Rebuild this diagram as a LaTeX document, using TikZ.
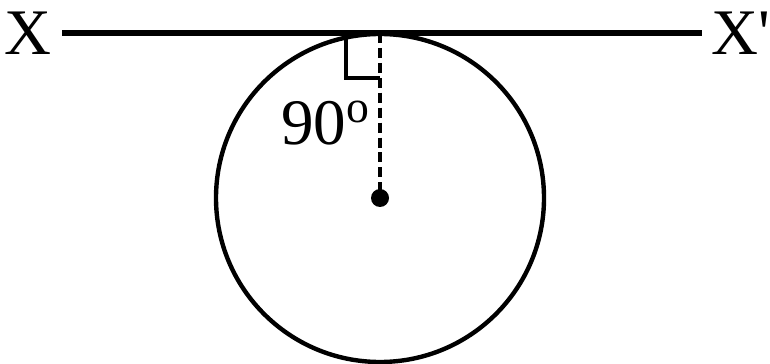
\documentclass[tikz,border=0pt]{standalone}
\usepackage{fontspec}
\setmainfont{Liberation Serif}
\usetikzlibrary{calc}

\begin{document}
\begin{tikzpicture}[x=0.02cm,y=-0.02cm,
  lbl/.style={font=\fontsize{37}{44}\selectfont,inner sep=0pt}]
\useasboundingbox (0,0) rectangle (770,364);
% points of the figure
\coordinate (O) at (380,198);
\coordinate (T) at (380,33);
% tangent line
\node[lbl,inner xsep=11*0.02cm,text height=25pt,text depth=0pt] (X) at (27.5,33) {X};
\node[lbl,inner xsep=9*0.02cm,text height=25pt,text depth=0pt,anchor=west] (Xp) at (702,33) {X\textquotesingle};
\draw[line width=2.9pt] (X.east) -- (Xp.west);
% circle and radius
\draw[line width=2.5pt] (O) circle[radius=164];
\draw[line width=2.6pt,dash pattern=on 5.7pt off 2.8pt] (T) -- (O);
\fill (O) circle[radius=9];
% right angle mark
\draw[line width=2.4pt] (T) ++(-34,0) -- ++(0,45) -- ++(34,0);
\node[lbl,anchor=base west] (ang) at (281,145) {90{\fontsize{26}{30}\selectfont\raisebox{13pt}{o}}};
\end{tikzpicture}
\end{document}
